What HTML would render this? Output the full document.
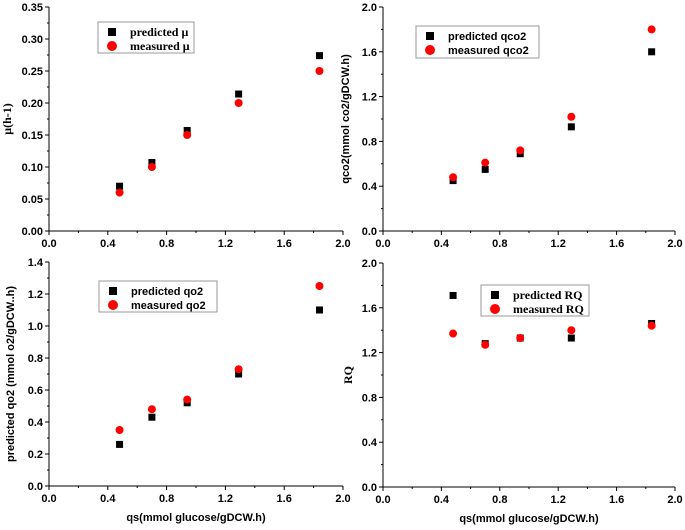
<!DOCTYPE html>
<html><head><meta charset="utf-8"><style>
body{margin:0;background:#fff;width:685px;height:525px;overflow:hidden}
svg text{font-family:"Liberation Sans",sans-serif;font-weight:bold;font-size:11px;fill:#000}
svg text.serif{font-family:"Liberation Serif",serif;font-size:12px}
</style></head><body>
<svg id="c" width="685" height="525" xmlns="http://www.w3.org/2000/svg"></svg>
<script>
const qs = [0.48, 0.70, 0.94, 1.29, 1.84];
const muPred = [0.070, 0.107, 0.157, 0.214, 0.274];
const muMeas = [0.060, 0.100, 0.150, 0.200, 0.250];
const qco2Pred = [0.45, 0.55, 0.69, 0.93, 1.60];
const qco2Meas = [0.48, 0.61, 0.72, 1.02, 1.80];
const qo2Pred = [0.26, 0.43, 0.52, 0.70, 1.10];
const qo2Meas = [0.35, 0.48, 0.54, 0.73, 1.25];
const rqPred = [1.71, 1.28, 1.33, 1.33, 1.46];
const rqMeas = [1.37, 1.27, 1.33, 1.40, 1.44];
const xTicks = ["0.0","0.4","0.8","1.2","1.6","2.0"];
const muTicks = ["0.00","0.05","0.10","0.15","0.20","0.25","0.30","0.35"];
const qco2Ticks = ["0.0","0.4","0.8","1.2","1.6","2.0"];
const qo2Ticks = ["0.0","0.2","0.4","0.6","0.8","1.0","1.2","1.4"];
const rqTicks = ["0.0","0.4","0.8","1.2","1.6","2.0"];

const svg = document.getElementById('c');
const NS = 'http://www.w3.org/2000/svg';
function mk(tag, attrs, parent){const e=document.createElementNS(NS,tag);for(const k in attrs)e.setAttribute(k,attrs[k]);(parent||svg).appendChild(e);return e;}

function panel(p){
  const g = mk('g',{});
  
  
  const xmax = 2.0, ymax = parseFloat(p.yTicks[p.yTicks.length-1]);
  const sx = v => p.x0 + (p.x1-p.x0)*v/xmax;
  const sy = v => p.y0 - (p.y0-p.y1)*v/ymax;
  mk('line',{x1:p.x0,y1:p.y0,x2:p.x1,y2:p.y0,stroke:'#000','stroke-width':1},g);
  mk('line',{x1:p.x0,y1:p.y0,x2:p.x0,y2:p.y1,stroke:'#000','stroke-width':1},g);
  xTicks.forEach((t,i)=>{
    const v=parseFloat(t), X=sx(v);
    mk('line',{x1:X,y1:p.y0,x2:X,y2:p.y0+4,stroke:'#000'},g);
    if(i<xTicks.length-1){const m=sx(v+0.2);mk('line',{x1:m,y1:p.y0,x2:m,y2:p.y0+2,stroke:'#000'},g);}
    const tx=mk('text',{x:X,y:p.y0+16,'text-anchor':'middle'},g);tx.textContent=t;
    
    
  });
  const step = parseFloat(p.yTicks[1]);
  p.yTicks.forEach((t,i)=>{
    const v=parseFloat(t), Y=sy(v);
    mk('line',{x1:p.x0-4,y1:Y,x2:p.x0,y2:Y,stroke:'#000'},g);
    if(i<p.yTicks.length-1){const m=sy(v+step/2);mk('line',{x1:p.x0-2,y1:m,x2:p.x0,y2:m,stroke:'#000'},g);}
    const tx=mk('text',{x:p.x0-6,y:Y+4,'text-anchor':'end'},g);tx.textContent=t;
    
    
  });
  const yl=mk('text',{x:0,y:0,'text-anchor':'middle',transform:`translate(${p.ylx},${(p.y0+p.y1)/2}) rotate(-90)`,class:p.serifY?'serif':''},g);
  yl.textContent=p.ylabel;
  
  
  if(p.xlabel){const xl=mk('text',{x:(p.x0+p.x1)/2,y:p.y0+35,'text-anchor':'middle'},g);xl.textContent=p.xlabel;
    
    }
  qs.forEach((x,i)=>{
    const r=mk('rect',{x:sx(x)-3.5,y:sy(p.pred[i])-3.5,width:7,height:7,fill:'#000'},g);
    
    
  });
  qs.forEach((x,i)=>{
    const c=mk('circle',{cx:sx(x),cy:sy(p.meas[i]),r:4,fill:'#f00'},g);
    
    
  });
  const L=p.leg;
  const lg=mk('g',{},g);
  
  
  mk('rect',{x:L[0],y:L[1],width:L[2],height:L[3],fill:'#fff',stroke:'#999'},lg);
  mk('rect',{x:L[0]+10,y:L[1]+6,width:8,height:8,fill:'#000'},lg);
  mk('circle',{cx:L[0]+14,cy:L[1]+24,r:5,fill:'#f00'},lg);
  const t1=mk('text',{x:L[0]+32,y:L[1]+14,class:p.serifL?'serif':''},lg);t1.textContent=p.l1;
  const t2=mk('text',{x:L[0]+32,y:L[1]+28,class:p.serifL?'serif':''},lg);t2.textContent=p.l2;
}
panel({name:'mu-panel',x0:49,x1:343,y0:231,y1:7,yTicks:muTicks,pred:muPred,meas:muMeas,ylabel:'μ(h-1)',ylx:11,serifY:true,leg:[98,22,96,31],l1:'predicted μ',l2:'measured μ',serifL:true});
panel({name:'qco2-panel',x0:383,x1:675,y0:231,y1:7,yTicks:qco2Ticks,pred:qco2Pred,meas:qco2Meas,ylabel:'qco2(mmol co2/gDCW.h)',ylx:349,leg:[416,26,123,32],l1:'predicted qco2',l2:'measured qco2'});
panel({name:'qo2-panel',x0:49,x1:343,y0:486,y1:262,yTicks:qo2Ticks,pred:qo2Pred,meas:qo2Meas,ylabel:'predicted qo2 (mmol o2/gDCW..h)',ylx:14,xlabel:'qs(mmol glucose/gDCW.h)',leg:[99,281,118,31],l1:'predicted qo2',l2:'measured qo2'});
panel({name:'rq-panel',x0:383,x1:675,y0:487,y1:263,yTicks:rqTicks,pred:rqPred,meas:rqMeas,ylabel:'RQ',ylx:352,serifY:true,xlabel:'qs(mmol glucose/gDCW.h)',leg:[481,285,108,31],l1:'predicted RQ',l2:'measured RQ',serifL:true});
</script>
</body></html>
